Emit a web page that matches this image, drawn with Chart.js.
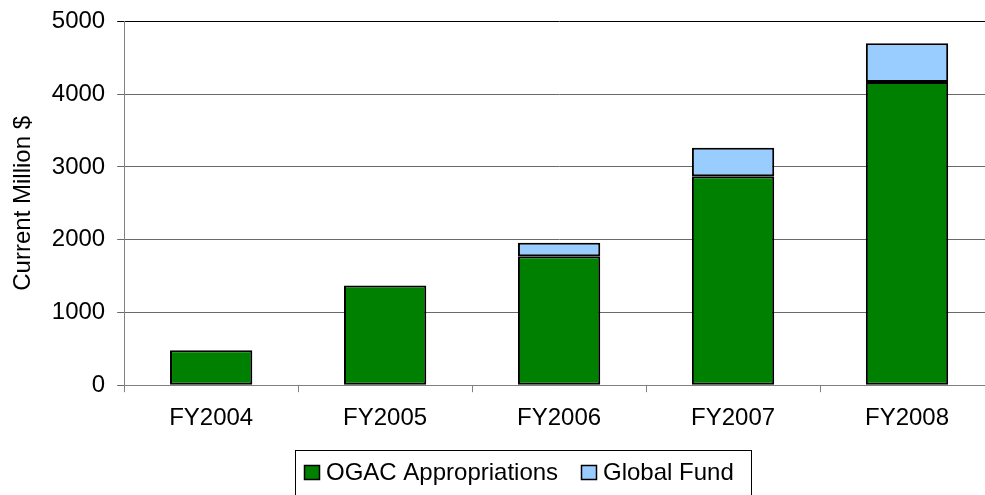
<!DOCTYPE html>
<html>
<head>
<meta charset="utf-8">
<script src="https://cdn.jsdelivr.net/npm/chart.js@4.4.1/dist/chart.umd.min.js"></script>
<style>
  html, body { margin: 0; padding: 0; overflow: hidden; background: #fff; }
  #wrap { width: 1000px; height: 495px; }
</style>
</head>
<body>
<div id="wrap"><canvas id="c" width="1000" height="495"></canvas></div>
<script>
// ---- data ----
const categories = ["FY2004", "FY2005", "FY2006", "FY2007", "FY2008"];
const ogacValues = [482, 1369, 1773, 2872, 4167];
const globalFundValues = [null, null, 185, 391, 534];
const seriesNames = ["OGAC Appropriations", "Global Fund"];
const yTicks = [0, 1000, 2000, 3000, 4000, 5000];
const yTitle = "Current Million $";

const FONT = "'Liberation Sans', Arial, sans-serif";
const greenFill = "#008000";
const blueFill = "#99CCFF";

const legendBox = {
  id: 'legendBox',
  afterDraw(chart) {
    const ctx = chart.ctx;
    ctx.save();
    ctx.strokeStyle = '#000';
    ctx.lineWidth = 1;
    ctx.strokeRect(295.5, 450.5, 456, 60);
    const items = [
      { x: 304, text: chart.data.datasets[0].label, color: chart.data.datasets[0].backgroundColor, tx: 326 },
      { x: 581, text: chart.data.datasets[1].label, color: chart.data.datasets[1].backgroundColor, tx: 603 }
    ];
    ctx.font = "24px " + FONT;
    ctx.textBaseline = 'alphabetic';
    items.forEach(it => {
      ctx.fillStyle = it.color;
      ctx.fillRect(it.x, 465, 16, 15);
      ctx.strokeStyle = '#000';
      ctx.lineWidth = 1.5;
      ctx.strokeRect(it.x + 0.5, 465.5, 15, 14);
      ctx.fillStyle = '#000';
      ctx.fillText(it.text, it.tx, 480);
    });
    ctx.restore();
  }
};

new Chart(document.getElementById('c'), {
  type: 'bar',
  data: {
    labels: categories,
    datasets: [
      { label: seriesNames[0], data: ogacValues, backgroundColor: greenFill, borderColor: '#000', borderWidth: 2, borderSkipped: false },
      { label: seriesNames[1], data: globalFundValues, backgroundColor: blueFill, borderColor: '#000', borderWidth: 2, borderSkipped: false }
    ]
  },
  options: {
    responsive: false,
    animation: false,
    layout: { padding: { left: 9, top: 21.5, right: 6, bottom: 50 } },
    datasets: { bar: { categoryPercentage: 1.0, barPercentage: 0.473 } },
    plugins: {
      legend: { display: false },
      tooltip: { enabled: false }
    },
    scales: {
      x: {
        stacked: true,
        grid: { display: true, drawOnChartArea: false, drawTicks: true, tickLength: 7, color: '#808080', offset: true },
        border: { display: true, color: '#808080', width: 1 },
        ticks: { color: '#000', font: { family: FONT, size: 24 }, padding: 12 }
      },
      y: {
        stacked: true,
        min: yTicks[0],
        max: yTicks[yTicks.length - 1],
        afterBuildTicks(scale) { scale.ticks = yTicks.map(v => ({ value: v })); },
        afterFit(scale) { scale.paddingTop = 0; scale.paddingBottom = 0; },
        grid: {
          color: ctx => (ctx.tick && ctx.tick.value === 5000) ? '#000' : '#6a6a6a',
          tickLength: 7,
          lineWidth: 1
        },
        border: { display: true, color: '#808080', width: 1 },
        ticks: { color: '#000', font: { family: FONT, size: 24 }, padding: 12, callback: v => String(v) },
        title: { display: true, text: yTitle, color: '#000', font: { family: FONT, size: 24 }, padding: { top: 0, bottom: 2 } }
      }
    }
  },
  plugins: [legendBox]
});
</script>
</body>
</html>
